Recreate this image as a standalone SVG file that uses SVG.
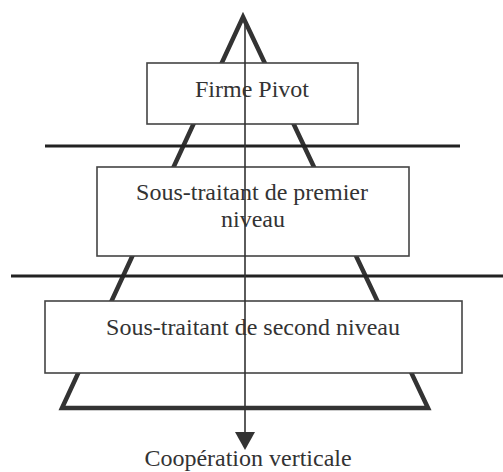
<svg xmlns="http://www.w3.org/2000/svg" width="503" height="472" viewBox="0 0 503 472">
<defs>
<style>
.box{fill:#fff;stroke:#444;stroke-width:1.6}
.lbl{font-family:"Liberation Serif","Times New Roman",serif;font-size:24px;fill:#333;text-anchor:middle}
.hl{stroke:#222;stroke-width:3}
</style>
</defs>
<rect width="503" height="472" fill="#fff"/>
<g id="pyramid">
<polygon points="243,17 428,408 62,408" fill="#fff" stroke="#333" stroke-width="4.5" stroke-linejoin="miter"/>
</g>
<g id="separators">
<line class="hl" x1="45" y1="146" x2="460" y2="146"/>
<line class="hl" x1="11" y1="276" x2="503" y2="276"/>
</g>
<g id="firme-pivot">
<rect class="box" x="147" y="63" width="211" height="61"/>
<text class="lbl" x="252" y="97">Firme Pivot</text>
</g>
<g id="sous-traitant-1">
<rect class="box" x="97" y="167" width="312" height="89"/>
<text class="lbl" x="252" y="200">Sous-traitant de premier</text>
<text class="lbl" x="253" y="227">niveau</text>
</g>
<g id="sous-traitant-2">
<rect class="box" x="45" y="301" width="417" height="72"/>
<text class="lbl" x="253" y="335">Sous-traitant de second niveau</text>
</g>
<g id="connectors">
<line x1="245" y1="20" x2="245" y2="434" stroke="#333" stroke-width="1.6"/>
<polygon points="235,432 255,432 245,450" fill="#333"/>
</g>
<g id="axis-label">
<text class="lbl" x="248" y="466">Coopération verticale</text>
</g>
</svg>
